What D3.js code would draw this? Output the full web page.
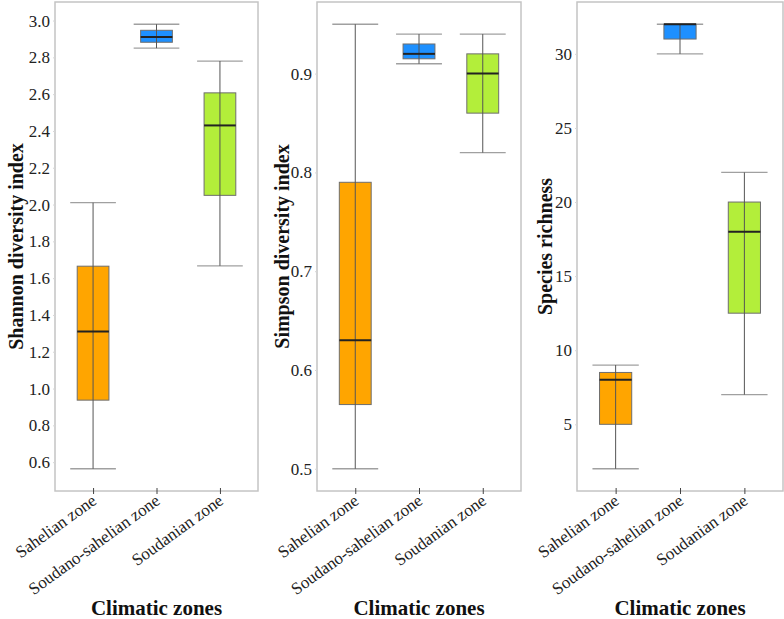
<!DOCTYPE html>
<html>
<head>
<meta charset="utf-8">
<script src="https://cdn.jsdelivr.net/npm/d3@7"></script>
<style>
  body { margin: 0; background: #fff; }
  svg, svg text { font-family: 'Liberation Serif', 'Times New Roman', Times, 'DejaVu Serif', serif !important; }
</style>
</head>
<body>
<div id="chart"></div>
<script>
const categories = ['Sahelian zone', 'Soudano-sahelian zone', 'Soudanian zone'];
const zoneColors = ['#FFA500', '#1E90FF', '#B3EE3A'];

// [lower whisker, Q1, median, Q3, upper whisker]
const shannonStats = [
  [0.564, 0.937, 1.31, 1.665, 2.01],
  [2.85, 2.882, 2.91, 2.947, 2.98],
  [1.667, 2.05, 2.43, 2.607, 2.78]
];
const simpsonStats = [
  [0.50, 0.565, 0.63, 0.79, 0.95],
  [0.91, 0.915, 0.92, 0.93, 0.94],
  [0.82, 0.86, 0.90, 0.92, 0.94]
];
const richnessStats = [
  [2, 5, 8, 8.5, 9],
  [30, 31, 32, 32, 32],
  [7, 12.5, 18, 20, 22]
];

const shannonTicks = [0.6, 0.8, 1.0, 1.2, 1.4, 1.6, 1.8, 2.0, 2.2, 2.4, 2.6, 2.8, 3.0];
const simpsonTicks = [0.5, 0.6, 0.7, 0.8, 0.9];
const richnessTicks = [5, 10, 15, 20, 25, 30];

const width = 784;
const height = 619;
const plotTop = 2;
const plotBottom = 491;

const panels = [
  {stats: shannonStats, ticks: shannonTicks, fmt: d3.format('.1f'), title: 'Shannon diversity index', left: 55, right: 258, titleOff: 32},
  {stats: simpsonStats, ticks: simpsonTicks, fmt: d3.format('.1f'), title: 'Simpson diversity index', left: 317, right: 521, titleOff: 28},
  {stats: richnessStats, ticks: richnessTicks, fmt: d3.format('d'), title: 'Species richness', left: 577, right: 783, titleOff: 25}
];

const svg = d3.select('#chart').append('svg')
  .attr('width', width)
  .attr('height', height);

panels.forEach(p => {
  const g = svg.append('g');

  // ggplot-like 5% expansion of the data range
  const lo = d3.min(p.stats, d => d[0]);
  const hi = d3.max(p.stats, d => d[4]);
  const pad = (hi - lo) * 0.05;

  const y = d3.scaleLinear()
    .domain([lo - pad, hi + pad])
    .range([plotBottom, plotTop]);

  const x = d3.scalePoint()
    .domain(categories)
    .range([p.left, p.right])
    .padding(0.6);

  const step = x.step();
  const boxW = step * 0.5;
  const capW = step * 0.72;

  // panel frame
  g.append('rect')
    .attr('x', p.left)
    .attr('y', plotTop)
    .attr('width', p.right - p.left)
    .attr('height', plotBottom - plotTop)
    .attr('fill', 'none')
    .attr('stroke', '#c4c4c4')
    .attr('stroke-width', 1.5);

  // y axis, faint short ticks
  g.append('g')
    .attr('transform', `translate(${p.left},0)`)
    .call(d3.axisLeft(y).tickValues(p.ticks).tickFormat(p.fmt).tickSize(2).tickPadding(3))
    .call(g => g.select('.domain').remove())
    .call(g => g.selectAll('line').attr('stroke', '#d6d6d6'))
    .call(g => g.selectAll('text')
      .attr('font-size', 17)
      .attr('fill', '#222'));

  // x axis with rotated labels
  g.append('g')
    .attr('transform', `translate(0,${plotBottom - 3})`)
    .call(d3.axisBottom(x).tickSize(6).tickSizeOuter(0))
    .call(g => g.select('.domain').remove())
    .call(g => g.selectAll('line').attr('stroke', '#444'))
    .call(g => g.selectAll('text')
      .attr('font-size', 17)
      .attr('fill', '#222')
      .attr('text-anchor', 'end')
      .attr('x', 0).attr('y', 0).attr('dy', 0)
      .attr('transform', 'translate(4,15) rotate(-36)'));

  const boxes = g.append('g')
    .selectAll('g').data(p.stats).enter().append('g')
    .attr('transform', (d, i) => `translate(${x(categories[i])},0)`);

  // whisker caps
  boxes.selectAll('line.cap').data(d => [d[0], d[4]]).enter().append('line')
    .attr('class', 'cap')
    .attr('x1', -capW / 2).attr('x2', capW / 2)
    .attr('y1', v => y(v)).attr('y2', v => y(v))
    .attr('stroke', '#a0a0a0')
    .attr('stroke-width', 1.3);

  // box
  boxes.append('rect')
    .attr('x', -boxW / 2)
    .attr('width', boxW)
    .attr('y', d => y(d[3]))
    .attr('height', d => y(d[1]) - y(d[3]))
    .attr('fill', (d, i) => zoneColors[i])
    .attr('stroke', '#6e6e6e')
    .attr('stroke-width', 1);

  // whisker line runs through the box
  boxes.append('line')
    .attr('x1', 0).attr('x2', 0)
    .attr('y1', d => y(d[0]))
    .attr('y2', d => y(d[4]))
    .attr('stroke', '#555')
    .attr('stroke-width', 1);

  // median
  boxes.append('line')
    .attr('x1', -boxW / 2).attr('x2', boxW / 2)
    .attr('y1', d => y(d[2])).attr('y2', d => y(d[2]))
    .attr('stroke', '#222')
    .attr('stroke-width', 2);

  // axis titles
  g.append('text')
    .attr('transform', `translate(${p.left - p.titleOff},${(plotTop + plotBottom) / 2}) rotate(-90)`)
    .attr('text-anchor', 'middle')
    .attr('font-size', 20)
    .attr('font-weight', 'bold')
    .attr('fill', '#111')
    .text(p.title);

  g.append('text')
    .attr('x', (p.left + p.right) / 2)
    .attr('y', 615)
    .attr('text-anchor', 'middle')
    .attr('font-size', 21)
    .attr('font-weight', 'bold')
    .attr('fill', '#111')
    .text('Climatic zones');
});
</script>
</body>
</html>
